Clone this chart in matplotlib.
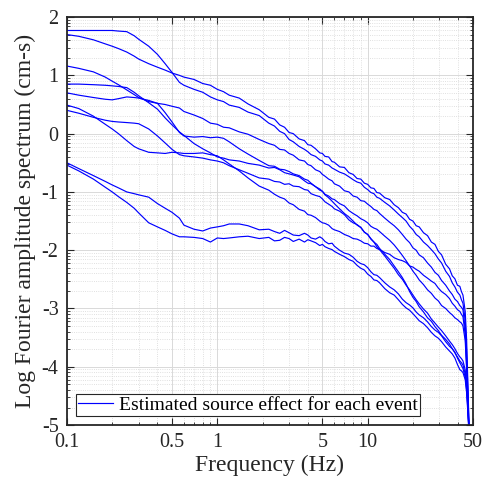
import matplotlib
matplotlib.use("Agg")
import matplotlib.pyplot as plt
import numpy as np
from matplotlib.ticker import FixedLocator, FuncFormatter, LogLocator, NullFormatter

plt.rcParams["font.family"] = ["Liberation Serif", "DejaVu Serif"]

# frequency (Hz) and log10 source spectra, one list per event
freq = [0.1, 0.12, 0.15, 0.18, 0.2, 0.22, 0.25, 0.28, 0.3, 0.35,
        0.4, 0.45, 0.5, 0.56, 0.6, 0.7, 0.8, 0.9, 1.0, 1.1,
        1.2, 1.4, 1.6, 1.9, 2.2, 2.4, 2.6, 2.8, 3.0, 3.2,
        3.5, 3.8, 4.0, 4.2, 4.5, 4.8, 5.0, 5.2, 5.5, 5.8,
        6.0, 6.5, 7.0, 7.5, 8.0, 8.5, 9.0, 9.5, 10, 10.5,
        11, 11.5, 12, 13, 14, 15, 16, 17, 18, 19,
        20, 21, 22, 23.5, 25, 26.5, 28, 29.5, 31, 33,
        35, 36.5, 38, 39.5, 41, 42, 43, 44.5, 45.5, 46.5,
        47.5]

event_1 = [1.70, 1.67, 1.61, 1.54, 1.50, 1.46, 1.40, 1.33, 1.28, 1.20,
           1.14, 1.09, 1.04, 1.00, 0.97, 0.93, 0.86, 0.83, 0.76, 0.72,
           0.66, 0.61, 0.51, 0.41, 0.28, 0.25, 0.15, 0.11, 0.02, 0.00,
           -0.09, -0.12, -0.19, -0.20, -0.26, -0.33, -0.34, -0.39, -0.40, -0.48,
           -0.49, -0.57, -0.58, -0.67, -0.70, -0.77, -0.78, -0.85, -0.87, -0.93,
           -0.94, -1.01, -1.02, -1.10, -1.13, -1.22, -1.27, -1.35, -1.38, -1.47,
           -1.50, -1.58, -1.60, -1.70, -1.75, -1.86, -1.90, -2.02, -2.08, -2.24,
           -2.32, -2.44, -2.49, -2.60, -2.62, -2.71, -2.77, -3.05, -3.55, -4.40,
           -5.30]
event_2 = [1.77, 1.77, 1.77, 1.77, 1.77, 1.76, 1.75, 1.68, 1.62, 1.50,
           1.36, 1.20, 1.05, 0.88, 0.83, 0.76, 0.71, 0.63, 0.58, 0.55,
           0.49, 0.45, 0.37, 0.31, 0.18, 0.13, 0.04, 0.00, -0.10, -0.14,
           -0.22, -0.27, -0.31, -0.36, -0.39, -0.45, -0.47, -0.52, -0.54, -0.59,
           -0.61, -0.66, -0.69, -0.74, -0.79, -0.83, -0.85, -0.92, -0.96, -1.01,
           -1.03, -1.09, -1.11, -1.18, -1.24, -1.31, -1.38, -1.44, -1.50, -1.59,
           -1.65, -1.73, -1.77, -1.86, -1.92, -1.99, -2.06, -2.15, -2.22, -2.36,
           -2.45, -2.56, -2.63, -2.72, -2.77, -2.85, -2.91, -3.20, -3.75, -4.50,
           -5.30]
event_3 = [1.16, 1.12, 1.06, 0.97, 0.90, 0.84, 0.75, 0.67, 0.62, 0.55,
           0.52, 0.50, 0.47, 0.44, 0.38, 0.32, 0.26, 0.18, 0.16, 0.11,
           0.10, 0.03, -0.01, -0.10, -0.17, -0.20, -0.27, -0.28, -0.34, -0.37,
           -0.45, -0.47, -0.53, -0.55, -0.62, -0.65, -0.70, -0.73, -0.78, -0.81,
           -0.86, -0.90, -0.98, -1.00, -1.07, -1.09, -1.15, -1.16, -1.21, -1.25,
           -1.30, -1.32, -1.37, -1.45, -1.52, -1.58, -1.65, -1.73, -1.81, -1.87,
           -1.96, -2.00, -2.08, -2.13, -2.22, -2.29, -2.38, -2.43, -2.52, -2.60,
           -2.70, -2.76, -2.84, -2.88, -2.95, -2.98, -3.02, -3.35, -3.90, -4.60,
           -5.30]
event_4 = [0.49, 0.43, 0.30, 0.16, 0.08, 0.00, -0.12, -0.22, -0.26, -0.32,
           -0.33, -0.34, -0.32, -0.33, -0.34, -0.34, -0.33, -0.36, -0.38, -0.45,
           -0.52, -0.64, -0.76, -0.90, -0.97, -1.04, -1.09, -1.12, -1.19, -1.22,
           -1.30, -1.33, -1.39, -1.40, -1.44, -1.50, -1.53, -1.54, -1.57, -1.63,
           -1.65, -1.68, -1.73, -1.76, -1.80, -1.81, -1.84, -1.88, -1.89, -1.93,
           -1.93, -1.97, -1.99, -2.04, -2.07, -2.13, -2.16, -2.18, -2.21, -2.27,
           -2.29, -2.33, -2.36, -2.43, -2.48, -2.53, -2.57, -2.65, -2.71, -2.76,
           -2.83, -2.91, -2.96, -3.02, -3.05, -3.10, -3.14, -3.45, -4.00, -4.70,
           -5.30]
event_5 = [0.85, 0.85, 0.84, 0.83, 0.82, 0.81, 0.79, 0.71, 0.65, 0.53,
           0.42, 0.27, 0.15, 0.03, -0.03, -0.17, -0.26, -0.33, -0.40, -0.42,
           -0.45, -0.47, -0.51, -0.54, -0.59, -0.58, -0.62, -0.67, -0.69, -0.71,
           -0.74, -0.81, -0.85, -0.86, -0.91, -0.97, -0.99, -1.04, -1.07, -1.12,
           -1.13, -1.20, -1.24, -1.32, -1.37, -1.41, -1.46, -1.49, -1.53, -1.59,
           -1.62, -1.64, -1.68, -1.76, -1.83, -1.91, -2.00, -2.09, -2.18, -2.27,
           -2.36, -2.43, -2.51, -2.59, -2.68, -2.74, -2.82, -2.87, -2.95, -3.00,
           -3.07, -3.11, -3.16, -3.19, -3.23, -3.25, -3.30, -3.55, -4.05, -4.75,
           -5.30]
event_6 = [0.70, 0.66, 0.62, 0.59, 0.58, 0.60, 0.63, 0.62, 0.61, 0.57,
           0.52, 0.36, 0.20, 0.02, -0.04, -0.06, -0.05, -0.07, -0.06, -0.08,
           -0.14, -0.26, -0.35, -0.46, -0.55, -0.56, -0.61, -0.62, -0.65, -0.69,
           -0.72, -0.78, -0.80, -0.85, -0.91, -0.95, -0.99, -1.05, -1.10, -1.16,
           -1.20, -1.29, -1.37, -1.43, -1.50, -1.57, -1.61, -1.69, -1.73, -1.81,
           -1.86, -1.94, -1.99, -2.10, -2.21, -2.31, -2.42, -2.50, -2.60, -2.68,
           -2.77, -2.85, -2.92, -3.01, -3.08, -3.18, -3.25, -3.32, -3.38, -3.47,
           -3.56, -3.62, -3.69, -3.77, -3.83, -3.86, -3.90, -4.05, -4.30, -4.70,
           -5.30]
event_7 = [0.40, 0.35, 0.28, 0.23, 0.21, 0.20, 0.19, 0.18, 0.17, 0.08,
           -0.04, -0.16, -0.27, -0.36, -0.38, -0.40, -0.42, -0.45, -0.47, -0.50,
           -0.55, -0.62, -0.68, -0.76, -0.78, -0.82, -0.83, -0.87, -0.86, -0.90,
           -0.91, -0.96, -0.97, -1.03, -1.06, -1.08, -1.12, -1.17, -1.21, -1.25,
           -1.29, -1.33, -1.39, -1.48, -1.53, -1.56, -1.61, -1.69, -1.73, -1.80,
           -1.86, -1.90, -1.97, -2.07, -2.16, -2.27, -2.37, -2.47, -2.58, -2.71,
           -2.81, -2.88, -2.97, -3.06, -3.16, -3.22, -3.31, -3.38, -3.46, -3.53,
           -3.61, -3.69, -3.76, -3.83, -3.90, -3.93, -3.97, -4.12, -4.35, -4.75,
           -5.30]
event_8 = [-0.50, -0.60, -0.72, -0.82, -0.88, -0.93, -1.00, -1.03, -1.05, -1.09,
           -1.20, -1.28, -1.35, -1.45, -1.57, -1.64, -1.67, -1.62, -1.60, -1.58,
           -1.55, -1.55, -1.58, -1.65, -1.64, -1.68, -1.71, -1.66, -1.70, -1.74,
           -1.75, -1.71, -1.74, -1.79, -1.81, -1.77, -1.80, -1.85, -1.89, -1.88,
           -1.93, -2.00, -2.05, -2.07, -2.12, -2.19, -2.23, -2.25, -2.30, -2.37,
           -2.42, -2.43, -2.47, -2.56, -2.63, -2.68, -2.75, -2.84, -2.90, -2.94,
           -2.99, -3.06, -3.11, -3.16, -3.23, -3.31, -3.37, -3.41, -3.47, -3.57,
           -3.65, -3.69, -3.75, -3.85, -3.93, -3.98, -4.03, -4.18, -4.40, -4.80,
           -5.30]
event_9 = [-0.54, -0.64, -0.78, -0.92, -1.00, -1.08, -1.18, -1.28, -1.36, -1.53,
           -1.60, -1.66, -1.72, -1.77, -1.77, -1.78, -1.80, -1.86, -1.79, -1.80,
           -1.79, -1.77, -1.76, -1.80, -1.78, -1.84, -1.83, -1.78, -1.80, -1.85,
           -1.81, -1.86, -1.82, -1.84, -1.87, -1.92, -1.90, -1.94, -1.97, -1.99,
           -2.02, -2.07, -2.11, -2.16, -2.19, -2.26, -2.31, -2.34, -2.41, -2.45,
           -2.51, -2.52, -2.56, -2.66, -2.73, -2.77, -2.85, -2.93, -2.99, -3.03,
           -3.09, -3.15, -3.21, -3.26, -3.33, -3.41, -3.47, -3.51, -3.57, -3.66,
           -3.73, -3.78, -3.85, -3.96, -4.05, -4.07, -4.10, -4.22, -4.45, -4.85,
           -5.30]

events = [event_1, event_2, event_3, event_4, event_5,
          event_6, event_7, event_8, event_9]

xticks = [0.1, 0.5, 1, 5, 10, 50]
yticks = [-5, -4, -3, -2, -1, 0, 1, 2]

fig = plt.figure(figsize=(4.92, 4.88), dpi=100)
ax = fig.add_axes([0.136, 0.129, 0.825, 0.836])

for i, ev in enumerate(events):
    ax.plot(freq, 10.0 ** np.array(ev), color="#0000ff", linewidth=0.85,
            label="Estimated source effect for each event" if i == 0 else None)

ax.set_xscale("log")
ax.set_yscale("log")
ax.set_xlim(0.1, 50)
ax.set_ylim(1e-5, 1e2)

ax.xaxis.set_major_locator(FixedLocator(xticks))
ax.xaxis.set_major_formatter(FuncFormatter(lambda v, p: "%g" % v))
ax.xaxis.set_minor_locator(LogLocator(base=10, subs=(2, 3, 4, 6, 7, 8, 9)))
ax.xaxis.set_minor_formatter(NullFormatter())

ax.yaxis.set_major_locator(FixedLocator([10.0 ** k for k in yticks]))
ax.yaxis.set_major_formatter(FuncFormatter(lambda v, p: "%d" % round(np.log10(v))))
ax.yaxis.set_minor_locator(LogLocator(base=10, subs=(2, 3, 4, 5, 6, 7, 8, 9)))
ax.yaxis.set_minor_formatter(NullFormatter())

ax.grid(which="major", color="#d9d9d9", linestyle="-", linewidth=0.7)
ax.grid(which="minor", color="#d6d6d6", linestyle=":", linewidth=0.6)
ax.set_axisbelow(True)

ax.tick_params(which="both", direction="in", top=True, right=True, colors="#262626")
ax.tick_params(which="major", length=5, width=0.8, labelsize=14.5, pad=6)
ax.tick_params(which="minor", length=2.5, width=0.6)
for s in ax.spines.values():
    s.set_linewidth(1.3)
    s.set_color("#262626")

ax.set_xlabel("Frequency (Hz)", fontsize=17, color="#262626", labelpad=2)
ax.set_ylabel("Log Fourier amplitude spectrum (cm-s)", fontsize=17,
              color="#262626", labelpad=4)

leg = ax.legend(loc="lower left", bbox_to_anchor=(0.022, 0.022), borderaxespad=0,
                fancybox=False, edgecolor="#262626", framealpha=1, fontsize=14,
                handlelength=1.8, handletextpad=0.3, borderpad=0.12)
leg.get_frame().set_linewidth(0.8)

fig.savefig("out.png", dpi=100)
